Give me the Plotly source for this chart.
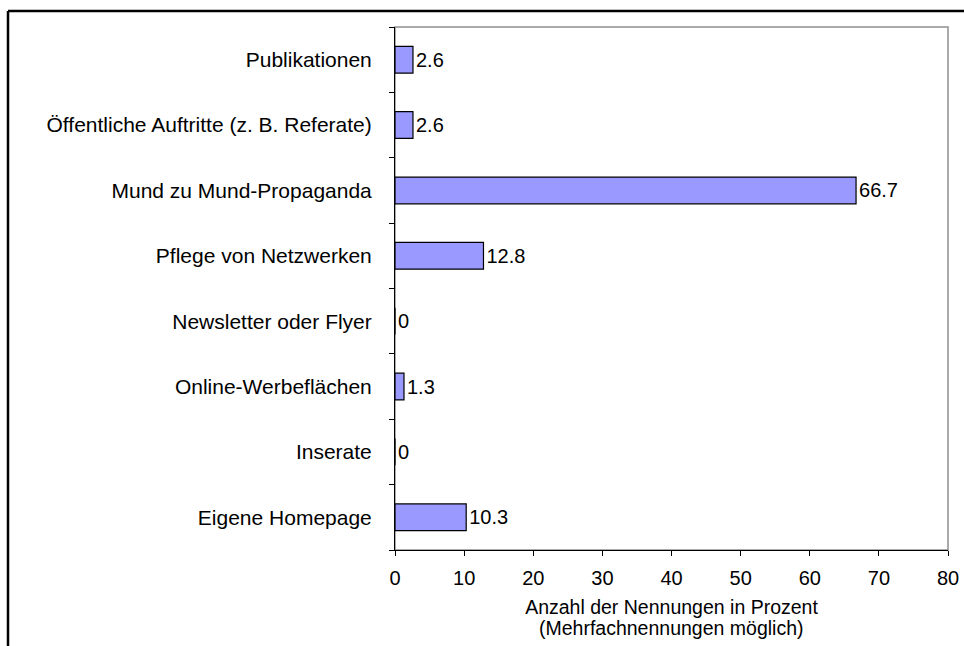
import plotly.graph_objects as go

categories = [
    "Publikationen",
    "Öffentliche Auftritte (z. B. Referate)",
    "Mund zu Mund-Propaganda",
    "Pflege von Netzwerken",
    "Newsletter oder Flyer",
    "Online-Werbeflächen",
    "Inserate",
    "Eigene Homepage",
]
values = [2.6, 2.6, 66.7, 12.8, 0, 1.3, 0, 10.3]
value_labels = ["2.6", "2.6", "66.7", "12.8", "0", "1.3", "0", "10.3"]
x_ticks = [0, 10, 20, 30, 40, 50, 60, 70, 80]
x_title = "Anzahl der Nennungen in Prozent"
x_subtitle = "(Mehrfachnennungen möglich)"

FONT = "Liberation Sans, Arial, sans-serif"
W, H = 964, 646
L, R, T, B = 395, 16, 27, 96
pw, ph = W - L - R, H - T - B

def px(xp):
    return (xp - L) / pw

def py(yp):
    return (H - B - yp) / ph

fig = go.Figure(go.Bar(
    x=values, y=categories, orientation="h",
    marker=dict(color="#9999FF", line=dict(color="black", width=1.2)),
    text=value_labels, textposition="outside",
    textfont=dict(family=FONT, size=20, color="black"),
    cliponaxis=False, width=0.41,
))

fig.update_layout(
    width=W, height=H, autosize=False,
    margin=dict(l=L, r=R, t=T, b=B, pad=0),
    paper_bgcolor="white", plot_bgcolor="white",
    showlegend=False,
    font=dict(family=FONT, size=20, color="black"),
    xaxis=dict(
        range=[0, 80], tickvals=x_ticks, ticks="outside", ticklen=5,
        tickcolor="black", showline=True, linecolor="black", linewidth=1,
        showgrid=False, zeroline=False, tickfont=dict(size=20),
        ticklabelstandoff=5, automargin=False,
        title=dict(text=x_title, font=dict(size=19.5), standoff=12),
    ),
    yaxis=dict(
        categoryorder="array", categoryarray=categories[::-1],
        ticks="outside", ticklen=5, tickcolor="black", tickson="boundaries",
        showline=True, linecolor="black", linewidth=1, showgrid=False,
        tickfont=dict(size=21), ticklabelstandoff=18, automargin=False,
    ),
    annotations=[
        dict(text=x_subtitle, xref="paper", yref="paper", x=0.5, y=py(628),
             xanchor="center", yanchor="middle", showarrow=False,
             font=dict(family=FONT, size=19.5, color="black")),
    ],
    shapes=[
        dict(type="rect", xref="paper", yref="paper", x0=0, x1=1, y0=0, y1=1,
             line=dict(color="#909090", width=1.5), layer="below"),
        dict(type="line", xref="paper", yref="paper", x0=px(8), x1=px(970),
             y0=py(11), y1=py(11), line=dict(color="black", width=2.5)),
        dict(type="line", xref="paper", yref="paper", x0=px(8), x1=px(8),
             y0=py(11), y1=py(660), line=dict(color="black", width=2.5)),
    ],
)

fig.write_html(
    "out.html",
    config={"responsive": False, "displayModeBar": False},
    post_script="document.body.style.margin='0';document.documentElement.style.overflow='hidden';document.body.style.overflow='hidden';",
)
